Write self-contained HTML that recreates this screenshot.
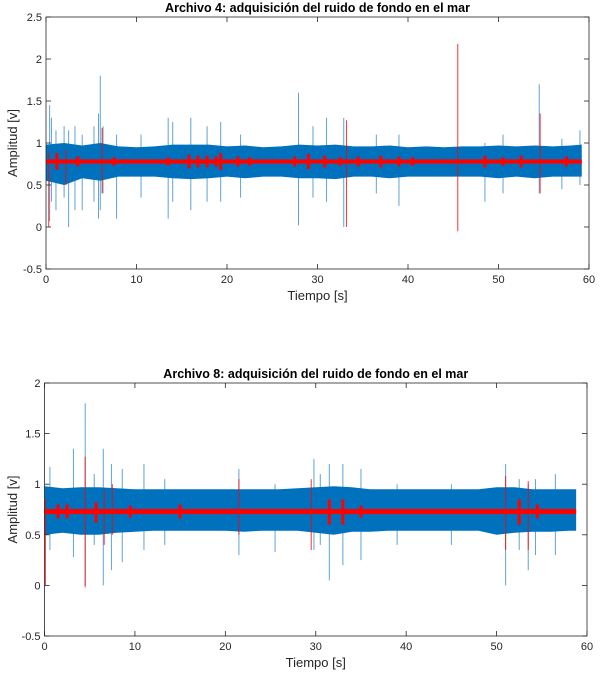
<!DOCTYPE html>
<html><head><meta charset="utf-8"><style>
body{margin:0;background:#fff;font-family:"Liberation Sans",Arial,sans-serif}
svg text{font-family:"Liberation Sans",Arial,sans-serif}
</style></head><body>
<svg id="svg" width="600" height="677" xmlns="http://www.w3.org/2000/svg"></svg>
<script>
// ---- Plot 1 data (Archivo 4) ----
const env1Times=[0,2,4,6,8,10,12,14,16,18,20,22,24,26,28,30,32,34,36,38,40,42,44,46,48,50,52,54,56,58,59.2];
const env1Upper=[0.98,1.0,0.97,1.0,0.96,0.95,0.96,0.98,0.98,0.98,0.96,0.97,0.95,0.96,0.98,0.97,0.98,0.96,0.96,0.97,0.95,0.96,0.95,0.96,0.96,0.97,0.96,0.97,0.96,0.97,0.98];
const env1Lower=[0.55,0.5,0.58,0.55,0.6,0.6,0.6,0.58,0.57,0.58,0.6,0.58,0.6,0.6,0.58,0.58,0.57,0.6,0.6,0.58,0.6,0.6,0.6,0.6,0.6,0.58,0.6,0.58,0.6,0.6,0.6];
const spk1Times=[0.4,0.6,1.1,2.0,2.5,3.2,4.0,5.3,5.8,6.0,6.3,7.8,10.5,13.5,14.0,16.0,17.8,19.3,21.5,27.9,29.5,31.0,32.9,36.5,39.0,48.5,50.5,54.5,57.0,59.0];
const spk1Max=[1.45,1.3,1.15,1.2,1.15,1.2,1.1,1.2,1.35,1.8,1.2,1.1,1.1,1.3,1.25,1.3,1.2,1.25,1.1,1.6,1.2,1.3,1.3,1.1,1.1,1.0,1.1,1.7,1.05,1.15];
const spk1Min=[0.07,0.3,0.2,0.35,0.0,0.2,0.2,0.3,0.1,0.2,0.4,0.1,0.35,0.1,0.3,0.2,0.3,0.3,0.35,0.02,0.35,0.3,0.0,0.4,0.25,0.3,0.4,0.4,0.45,0.5];
const red1Mean=0.78;
const burst1Times=[0.3,1.2,2.2,3.5,6.2,7.5,13.5,15.8,16.8,17.8,18.8,19.3,21.2,22.5,27.5,29.0,30.8,32.5,33.2,34.5,37.0,39.0,40.5,45.5,48.5,50.5,52.5,54.6,57.5];
const burst1Max=[0.9,0.88,0.92,0.84,1.18,0.83,0.83,0.86,0.85,0.85,0.84,0.88,0.84,0.83,0.84,0.87,0.85,0.83,1.27,0.84,0.85,0.84,0.83,2.18,0.85,0.83,0.85,1.35,0.84];
const burst1Min=[0.0,0.68,0.5,0.72,0.4,0.73,0.73,0.7,0.71,0.71,0.72,0.68,0.72,0.73,0.72,0.69,0.71,0.73,0.0,0.72,0.71,0.72,0.73,-0.05,0.71,0.73,0.71,0.4,0.72];
// ---- Plot 2 data (Archivo 8) ----
const env2Times=[0,2,4,6,8,10,12,14,16,18,20,22,24,26,28,30,32,34,36,38,40,42,44,46,48,50,52,54,56,58,58.8];
const env2Upper=[0.98,0.96,0.97,0.97,0.96,0.95,0.95,0.95,0.95,0.95,0.95,0.95,0.95,0.95,0.96,0.97,0.98,0.97,0.95,0.95,0.95,0.95,0.95,0.95,0.95,0.97,0.97,0.95,0.95,0.95,0.95];
const env2Lower=[0.5,0.52,0.5,0.5,0.52,0.53,0.54,0.54,0.54,0.54,0.54,0.53,0.54,0.54,0.54,0.52,0.5,0.53,0.53,0.54,0.54,0.54,0.54,0.54,0.54,0.5,0.52,0.53,0.53,0.54,0.54];
const spk2Times=[0.6,3.2,4.5,5.5,6.5,7.4,8.6,11.0,13.3,21.5,25.5,29.8,30.5,31.5,33.0,35.0,39.0,45.0,51.0,52.5,53.5,54.3,56.5];
const spk2Max=[1.17,1.35,1.8,1.1,1.35,1.2,1.15,1.2,1.05,1.15,1.0,1.25,1.1,1.2,1.2,1.15,1.0,1.0,1.2,1.05,1.0,1.05,1.1];
const spk2Min=[0.35,0.28,0.0,0.4,0.0,0.15,0.23,0.35,0.4,0.3,0.33,0.35,0.4,0.05,0.2,0.25,0.4,0.4,0.0,0.35,0.15,0.3,0.3];
const red2Mean=0.73;
const burst2Times=[0.1,1.5,2.5,4.5,5.7,6.6,7.5,9.5,15.0,21.5,29.5,31.5,33.0,35.0,51.0,52.5,53.5,54.5];
const burst2Max=[0.85,0.8,0.8,1.27,0.82,0.95,1.0,0.79,0.8,1.05,1.05,0.85,0.85,0.79,1.08,0.85,1.03,0.8];
const burst2Min=[0.0,0.66,0.66,-0.02,0.62,0.4,0.5,0.67,0.66,0.5,0.35,0.6,0.6,0.67,0.35,0.6,0.35,0.66];

const NS="http://www.w3.org/2000/svg";
const svg=document.getElementById('svg');
function el(tag,attrs,parent){const e=document.createElementNS(NS,tag);for(const k in attrs)e.setAttribute(k,attrs[k]);(parent||svg).appendChild(e);return e;}

function drawPlot(cfg){
  const g=el('g',{});
  
  
  const X=t=>cfg.x0+(t-0)/60*(cfg.x1-cfg.x0);
  const Y=v=>cfg.y1-(v-cfg.ymin)/(cfg.ymax-cfg.ymin)*(cfg.y1-cfg.y0);
  const bg=el('rect',{x:cfg.x0,y:cfg.y0,width:cfg.x1-cfg.x0,height:cfg.y1-cfg.y0,fill:'#fff'},g);
  
  
  const sp=el('g',{stroke:'#5fa3d6','stroke-width':1},g);
  
  
  cfg.spT.forEach((t,i)=>{const l=el('line',{x1:X(t),x2:X(t),y1:Y(cfg.spMax[i]),y2:Y(cfg.spMin[i])},sp);
    
    });
  let pts=[];
  cfg.eT.forEach((t,i)=>pts.push(X(t)+','+Y(cfg.eU[i])));
  for(let i=cfg.eT.length-1;i>=0;i--)pts.push(X(cfg.eT[i])+','+Y(cfg.eL[i]));
  const band=el('polygon',{points:pts.join(' '),fill:'#0072BD'},g);
  
  
  const rg=el('g',{fill:'#ff0000',stroke:'#ff0000'},g);
  
  
  const rl=el('rect',{x:X(0),y:Y(cfg.rm+0.025),width:X(cfg.eT[cfg.eT.length-1])-X(0),height:Y(cfg.rm-0.025)-Y(cfg.rm+0.025),stroke:'none'},rg);
  
  
  cfg.bT.forEach((t,i)=>{
    const big=(cfg.bMax[i]-cfg.bMin[i])>0.4;
    const l=el('line',{x1:X(t),x2:X(t),y1:Y(cfg.bMax[i]),y2:Y(cfg.bMin[i]),'stroke-width':big?1:3,opacity:big?0.8:1},rg);
    
    });
  const box=el('rect',{x:cfg.x0,y:cfg.y0,width:cfg.x1-cfg.x0,height:cfg.y1-cfg.y0,fill:'none',stroke:'#262626','stroke-width':0.8},g);
  
  
  [0,10,20,30,40,50,60].forEach(t=>{
    el('line',{x1:X(t),x2:X(t),y1:cfg.y1,y2:cfg.y1-5,stroke:'#262626','stroke-width':0.8},g);
    el('line',{x1:X(t),x2:X(t),y1:cfg.y0,y2:cfg.y0+5,stroke:'#262626','stroke-width':0.8},g);
    const tx=el('text',{x:X(t),y:cfg.y1+14,'font-size':11,'text-anchor':'middle',fill:'#262626'},g);
    tx.textContent=t;
    
    
  });
  cfg.yt.forEach(v=>{
    el('line',{x1:cfg.x0,x2:cfg.x0+5,y1:Y(v),y2:Y(v),stroke:'#262626','stroke-width':0.8},g);
    el('line',{x1:cfg.x1,x2:cfg.x1-5,y1:Y(v),y2:Y(v),stroke:'#262626','stroke-width':0.8},g);
    const tx=el('text',{x:cfg.x0-4,y:Y(v)+4,'font-size':11,'text-anchor':'end',fill:'#262626'},g);
    tx.textContent=v;
    
    
  });
  const xt=el('text',{x:(cfg.x0+cfg.x1)/2,y:cfg.y1+31,'font-size':13,'text-anchor':'middle',fill:'#262626'},g);
  xt.textContent='Tiempo [s]';
  
  
  const cy=(cfg.y0+cfg.y1)/2;
  const yt=el('text',{x:17,y:cy,'font-size':13,'text-anchor':'middle',fill:'#262626',transform:`rotate(-90 17 ${cy})`},g);
  yt.textContent='Amplitud [v]';
  
  
  const ti=el('text',{x:(cfg.x0+cfg.x1)/2,y:cfg.y0-5,'font-size':12.5,'font-weight':'bold','text-anchor':'middle',fill:'#000'},g);
  ti.textContent=cfg.title;
  
  
}
drawPlot({name:'plot-archivo-4',title:'Archivo 4: adquisición del ruido de fondo en el mar',x0:46,x1:589,y0:17,y1:269,ymin:-0.5,ymax:2.5,yt:[-0.5,0,0.5,1,1.5,2,2.5],
  eT:env1Times,eU:env1Upper,eL:env1Lower,spT:spk1Times,spMax:spk1Max,spMin:spk1Min,rm:red1Mean,bT:burst1Times,bMax:burst1Max,bMin:burst1Min});
drawPlot({name:'plot-archivo-8',title:'Archivo 8: adquisición del ruido de fondo en el mar',x0:44.5,x1:587,y0:383,y1:636,ymin:-0.5,ymax:2,yt:[-0.5,0,0.5,1,1.5,2],
  eT:env2Times,eU:env2Upper,eL:env2Lower,spT:spk2Times,spMax:spk2Max,spMin:spk2Min,rm:red2Mean,bT:burst2Times,bMax:burst2Max,bMin:burst2Min});
</script>
</body></html>
